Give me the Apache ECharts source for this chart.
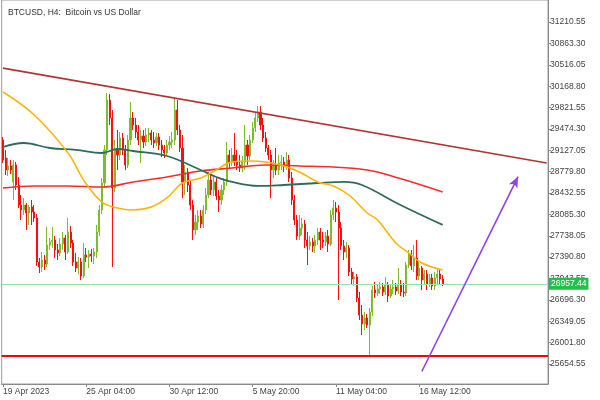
<!DOCTYPE html>
<html><head><meta charset="utf-8">
<script src="https://cdn.jsdelivr.net/npm/echarts@6.0.0/dist/echarts.min.js"></script>
<style>html,body{margin:0;padding:0;background:#fff}#c{width:600px;height:400px}</style>
</head><body><div id="c"></div>
<script>
const titleText = 'BTCUSD, H4:  Bitcoin vs US Dollar';
const firstBar = Date.UTC(2023, 3, 19, 20);
const barCount = 210;
const xTickLabels = ['19 Apr 2023', '25 Apr 04:00', '30 Apr 12:00', '5 May 20:00', '11 May 04:00', '16 May 12:00'];
const xTickStep = 32;
const yTicks = [31210.55, 30863.30, 30516.05, 30168.80, 29821.55, 29474.30, 29127.05, 28779.80, 28432.55, 28085.30, 27738.05, 27390.80, 27043.55, 26696.30, 26349.05, 26001.80, 25654.55];
const yMin = 25329, yMax = 31569;
// [open, close, low, high]
const candles = [
[29294,28969,28920,29343],[29002,28807,28725,29132],[28807,28872,28709,29002],[28872,28807,28742,28969],[28612,28888,28319,28969],
[28888,28563,28482,28937],[28563,28238,28189,28693],[28238,28157,27994,28400],[28157,28238,28075,28352],[28238,28108,27832,28270],
[28108,28205,27913,28238],[28205,28124,27913,28319],[28124,28027,27962,28238],[28027,27312,27247,28092],[27312,27230,27133,27377],
[27230,27344,27149,27474],[27344,27279,27182,27425],[27279,27588,27230,27880],[27588,27637,27507,27702],[27637,27669,27539,27880],
[27669,27507,27377,27734],[27507,27458,27344,27604],[27458,27604,27409,27702],[27604,27702,27507,27799],[27702,27474,27344,27750],
[27474,27799,27442,28027],[27799,27620,27539,27897],[27620,27312,27247,27669],[27312,27214,27149,27458],[27214,27312,27117,27393],
[27312,27084,27019,27377],[27084,27425,27052,27620],[27425,27393,27312,27539],[27393,27442,27214,27507],[27442,27409,27312,27523],
[27409,27474,27279,27539],[27474,27799,27377,27913],[27799,28157,27734,28238],[28157,28595,28092,28677],[28595,29132,28514,29213],
[29132,29944,29050,30058],[29944,29652,29538,30042],[29652,28514,27230,29782],[28514,29132,28449,29294],[29132,29050,28807,29457],
[29050,29327,28969,29424],[29327,29132,29050,29408],[29132,28888,28807,29213],[28888,29294,28839,29375],[29294,29652,29213,29912],
[29652,29538,29457,29749],[29538,29424,29327,29652],[29424,29294,29213,29538],[29294,29359,28920,29457],[29359,29262,29164,29457],
[29262,29375,29197,29489],[29375,29408,29262,29489],[29408,29294,29213,29457],[29294,29245,29164,29424],[29245,29343,29197,29408],
[29343,29213,29132,29408],[29213,29132,29018,29294],[29132,29083,29002,29213],[29083,29213,29034,29294],[29213,29262,29132,29359],
[29262,29294,29164,29424],[29294,29782,29213,29977],[29782,29457,29375,29944],[29457,29164,29099,29538],[29164,28612,28352,29375],
[28612,28774,28400,28888],[28774,28563,28449,28839],[28563,28238,28157,28644],[28238,27832,27669,28319],[27832,27962,27750,28075],
[27962,28059,27832,28157],[28059,27929,27864,28157],[27929,28157,27864,28238],[28157,28400,28092,28514],[28400,28644,28352,28774],
[28644,28482,28400,28725],[28482,28612,28384,28709],[28612,28384,28319,28677],[28384,28319,28124,28482],[28319,28482,28238,28563],
[28482,28612,28400,28677],[28612,29050,28547,29262],[29050,28937,28839,29132],[28937,29050,28872,29164],[29050,28937,28872,29408],
[28937,28888,28807,29132],[28888,28839,28774,29050],[28839,28937,28774,29034],[28937,29213,28807,29538],[29213,29034,28888,29294],
[29034,29294,28969,29375],[29294,29489,29245,29587],[29489,29652,29424,29749],[29652,29749,29587,29847],[29749,29538,29457,29847],
[29538,29327,29262,29652],[29327,29164,29099,29424],[29164,29050,28969,29213],[29050,28807,28352,29132],[28807,28888,28677,28969],
[28888,28807,28725,29164],[28807,28920,28725,29050],[28920,28937,28807,29050],[28937,28872,28774,29018],[28872,28969,28807,29099],
[28969,28677,28612,29050],[28677,28319,28238,28774],[28319,27994,27913,28400],[27994,27734,27669,28075],[27734,27864,27669,28075],
[27864,27929,27750,28027],[27929,27669,27539,27994],[27669,27572,27263,27799],[27572,27637,27507,27734],[27637,27572,27474,27702],
[27572,27669,27458,27750],[27669,27799,27588,27864],[27799,27669,27507,27864],[27669,27637,27539,27799],[27637,27734,27572,27799],
[27734,27604,27474,27832],[27604,28075,27572,28157],[28075,28189,27994,28319],[28189,28124,27962,28287],[28124,27864,26694,28238],
[27864,27572,27507,27962],[27572,27474,27344,27669],[27474,27539,27377,27637],[27539,27149,27084,27588],[27149,27035,26954,27214],
[27035,27068,26922,27149],[27068,26727,26662,27117],[26727,26450,26369,26824],[26450,26304,26125,26613],[26304,26402,26207,26499],
[26402,26288,26239,26467],[26288,26499,25768,26564],[26499,26857,26434,26922],[26857,26808,26727,26987],[26808,26873,26759,26954],
[26873,26905,26792,26987],[26905,26824,26759,26970],[26824,26938,26775,27068],[26938,26759,26662,26987],[26759,26873,26727,26938],
[26873,26905,26792,27019],[26905,26840,26775,26970],[26840,26954,26792,27214],[26954,26824,26759,27019],[26824,26808,26743,26970],
[26808,27263,26759,27312],[27263,27442,27214,27507],[27442,27247,27182,27507],[27247,27377,27149,27588],[27377,27084,27019,27669],
[27084,27214,27019,27312],[27214,27019,26857,27247],[27019,27117,26938,27182],[27117,26954,26857,27182],[26954,27052,26905,27117],
[27052,26922,26857,27117],[26922,27052,26857,27149],[27052,27117,26954,27214],[27117,27035,26938,27182],[27035,26957.44,26922,27100]
];
// moving averages: [bar index, price]
const maFast = [[0,30074],[12,29701],[25,29083],[31,28644],[38,28287],[44,28189],[50,28157],[57,28205],[63,28352],[69,28595],[76,28677],[82,28807],[88,28937],[95,28953],[101,28937],[108,28872],[114,28774],[121,28612],[127,28547],[133,28400],[140,28108],[144,27994],[151,27620],[156,27458],[161,27295],[169,27182]];
const maMid = [[0,29180],[8,29245],[18,29164],[28,29132],[38,29083],[44,29148],[50,29115],[63,29034],[76,28807],[82,28693],[88,28612],[98,28547],[108,28563],[121,28595],[131,28612],[138,28563],[152,28254],[169,27915]];
const maSlow = [[0,28514],[12,28547],[25,28547],[38,28530],[50,28612],[63,28693],[76,28790],[88,28839],[101,28888],[114,28872],[127,28855],[140,28807],[152,28677],[169,28450]];
const trendLine = [[0,30462],[209,28920]];
const supportLevel = 25792;
const bidPrice = 26957.44;
const arrowLine = [[161,25532],[198,28700]];

const MON = ['Jan','Feb','Mar','Apr','May','Jun','Jul','Aug','Sep','Oct','Nov','Dec'];
const categories = [];
for (let i = 0; i < barCount; i++) {
  const d = new Date(firstBar + i * 4 * 3600 * 1000);
  categories.push(d.getUTCDate() + ' ' + MON[d.getUTCMonth()] + ' ' + String(d.getUTCHours()).padStart(2,'0') + ':00');
}
const showTick = (idx) => idx % xTickStep === 0 && idx / xTickStep < xTickLabels.length;
const FONT = 'Liberation Sans';

const chart = echarts.init(document.getElementById('c'), null, {renderer: 'canvas'});
chart.setOption({
  animation: false,
  backgroundColor: '#ffffff',
  title: {text: titleText, left: 3, top: 3, textStyle: {fontSize: 8.5, fontWeight: 'normal', color: '#333', fontFamily: FONT}},
  grid: {left: 1, right: 52, top: 0, bottom: 16, show: true, borderColor: '#9a9a9a', borderWidth: 1},
  xAxis: {
    type: 'category', data: categories, boundaryGap: true,
    axisLine: {lineStyle: {color: '#8a8a8a'}},
    axisTick: {show: true, alignWithLabel: true, length: 3, interval: showTick, lineStyle: {color: '#8a8a8a'}},
    axisLabel: {interval: showTick, align: 'left', margin: 3, fontSize: 8.5, color: '#444', fontFamily: FONT,
      formatter: (v, idx) => xTickLabels[idx / xTickStep] || ''},
    splitLine: {show: false}
  },
  yAxis: {
    type: 'value', position: 'right', min: yMin, max: yMax, scale: true,
    axisLine: {show: true, lineStyle: {color: '#8a8a8a'}},
    axisTick: {show: true, length: 3, customValues: yTicks, lineStyle: {color: '#8a8a8a'}},
    axisLabel: {customValues: yTicks, margin: 2, fontSize: 8.5, color: '#444', fontFamily: FONT, formatter: v => v.toFixed(2)},
    splitLine: {show: false}
  },
  series: [
    {type: 'line', data: maSlow, smooth: 0.4, showSymbol: false, z: 3, lineStyle: {color: '#ff2a2a', width: 1.6}},
    {type: 'line', data: maMid, smooth: 0.4, showSymbol: false, z: 3, lineStyle: {color: '#2f6b5c', width: 1.8}},
    {type: 'line', data: maFast, smooth: 0.4, showSymbol: false, z: 3, lineStyle: {color: '#ffb400', width: 1.5}},
    {type: 'candlestick', data: candles, barWidth: 1.6, z: 2,
      itemStyle: {color: '#7dbd2c', color0: '#ff0d0d', borderColor: '#7dbd2c', borderColor0: '#ff0d0d', borderWidth: 1}},
    {type: 'line', data: [], z: 4,
      markLine: {silent: true, symbol: 'none', animation: false,
        data: [
          [{coord: trendLine[0], lineStyle: {color: '#b23333', width: 1.6, type: 'solid'}}, {coord: trendLine[1]}],
          {yAxis: supportLevel, lineStyle: {color: '#ff0000', width: 2.2, type: 'solid'}, label: {show: false}},
          {yAxis: bidPrice, lineStyle: {color: '#9ee0aa', width: 1, type: 'solid'},
            label: {show: true, position: 'end', distance: 1, formatter: bidPrice.toFixed(2), color: '#fff', backgroundColor: '#21c04a', padding: [2, 2, 1, 2], fontSize: 8.5, fontFamily: FONT}},
          [{coord: arrowLine[0], symbol: 'none', lineStyle: {color: '#8e44e8', width: 1.6, type: 'solid'}}, {coord: arrowLine[1], symbol: 'arrow', symbolSize: [7, 11]}]
        ],
        label: {show: false}
      }}
  ]
});
</script></body></html>
